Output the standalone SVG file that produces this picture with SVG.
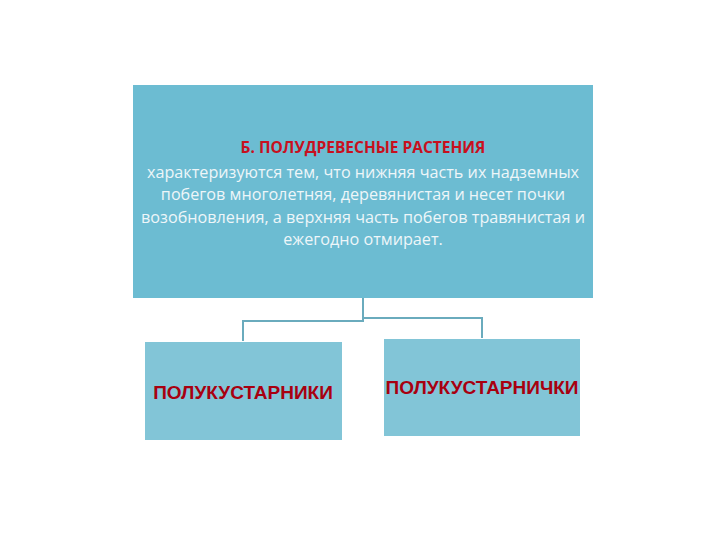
<svg xmlns="http://www.w3.org/2000/svg" width="720" height="540" viewBox="0 0 720 540">
<style>
.box{fill:#6cbcd2}
.sub{fill:#82c5d7}
.title{font-family:"Open Sans","Liberation Sans",sans-serif;font-weight:bold;font-size:15.5px;fill:#c8101e;text-anchor:middle}
.body{font-family:"Open Sans","Liberation Sans",sans-serif;font-size:16.2px;fill:#eef6f9;text-anchor:middle}
.lab{font-family:"Liberation Sans",Arial,sans-serif;font-weight:bold;font-size:19px;fill:#a80010;text-anchor:middle}
.con{fill:none;stroke:#6aabbd;stroke-width:2}
</style>
<rect width="720" height="540" fill="#ffffff"/>
<g id="connectors">
<path class="con" d="M363 298 V321 H243 V341"/>
<path class="con" d="M363 318 H482 V338"/>
</g>
<g id="top">
<rect class="box" x="133" y="85" width="460" height="213"/>
<text class="title" x="363" y="153">Б. ПОЛУДРЕВЕСНЫЕ РАСТЕНИЯ</text>
<text class="body" x="363" y="178">характеризуются тем, что нижняя часть их надземных</text>
<text class="body" x="363" y="200">побегов многолетняя, деревянистая и несет почки</text>
<text class="body" x="363" y="223">возобновления, а верхняя часть побегов травянистая и</text>
<text class="body" x="363" y="245">ежегодно отмирает.</text>
</g>
<g id="left">
<rect class="sub" x="145" y="342" width="197" height="98"/>
<text class="lab" x="243" y="399">ПОЛУКУСТАРНИКИ</text>
</g>
<g id="right">
<rect class="sub" x="384" y="339" width="196" height="97"/>
<text class="lab" x="482" y="394">ПОЛУКУСТАРНИЧКИ</text>
</g>
</svg>
